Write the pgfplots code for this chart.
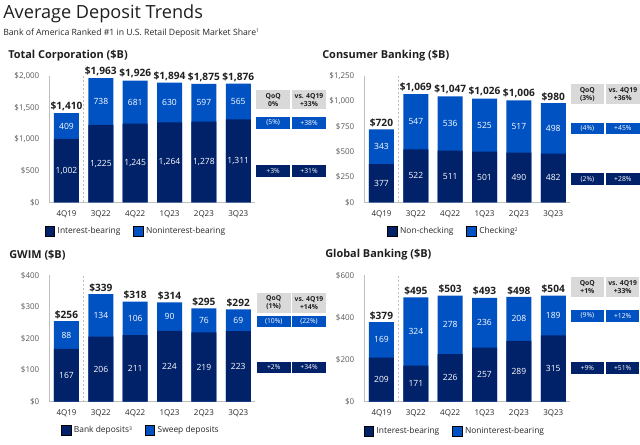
\documentclass[border=0pt]{standalone}
\usepackage{fontspec}
\setmainfont{Open Sans}
\usepackage{pgfplots}
\pgfplotsset{compat=1.18}
\usepackage{pgfplotstable}

\definecolor{navy}{HTML}{012169}
\definecolor{bblue}{HTML}{0052C2}
\definecolor{boxgray}{HTML}{D9D9D9}
\definecolor{axgray}{HTML}{BFBFBF}
\definecolor{tickgray}{HTML}{595959}
\definecolor{txt}{HTML}{262626}
\definecolor{ttl}{HTML}{1F1F1F}

\newcommand\titlefont{\fontsize{13.6}{16}\selectfont}
\newcommand\subfont{\fontsize{6.5}{8}\selectfont}
\newcommand\ptitlefont{\fontsize{8.2}{10}\selectfont\bfseries}
\newcommand\totfont{\fontsize{7.6}{9}\selectfont\bfseries}
\newcommand\inlabfont{\fontsize{6.4}{8}\selectfont}
\newcommand\tickfont{\fontsize{6}{7}\selectfont}
\newcommand\legfont{\fontsize{6.3}{7.5}\selectfont}
\newcommand\boxfont{\fontsize{5.1}{5.9}\selectfont}
\newcommand\supnote[1]{\raisebox{2.2pt}{\fontsize{3.8}{4}\selectfont #1}}

\pgfplotstableread{
x a b t
0 1002 409 1410
1 1225 738 1963
2 1245 681 1926
3 1264 630 1894
4 1278 597 1875
5 1311 565 1876
}\dataTC
\pgfplotstableread{
x a b t
0 377 343 720
1 522 547 1069
2 511 536 1047
3 501 525 1026
4 490 517 1006
5 482 498 980
}\dataCB
\pgfplotstableread{
x a b t
0 167 88 256
1 206 134 339
2 211 106 318
3 224 90 314
4 219 76 295
5 223 69 292
}\dataGW
\pgfplotstableread{
x a b t
0 209 169 379
1 171 324 495
2 226 278 503
3 257 236 493
4 289 208 498
5 315 189 504
}\dataGB

\pgfplotsset{
  sq/.style={legend image code/.code={\fill[##1] (0pt,-3.7pt) rectangle (7.4pt,3.7pt);}},
  panel/.style={
    scale only axis, width=154.6pt, height=94.8pt,
    anchor=south west,
    xmin=-0.5, xmax=5.5, ymin=0,
    axis x line*=bottom, axis y line*=left,
    axis line style={draw=axgray, line width=0.8pt},
    major tick length=0pt,
    xtick={0,1,2,3,4,5},
    xticklabels={4Q19,3Q22,4Q22,1Q23,2Q23,3Q23},
    xticklabel style={font=\tickfont, text=txt, yshift=-2.5pt},
    yticklabel style={font=\tickfont, text=tickgray, xshift=-4pt},
    scaled y ticks=false,
    yticklabel={\$\pgfmathprintnumber{\tick}},
    /pgf/number format/1000 sep={,},
    /pgf/number format/assume math mode=true,
    /pgf/number format/fixed,
    /pgf/number format/precision=0,
    clip=false,
    legend style={draw=none, fill=none, inner sep=0pt, legend columns=2,
      font=\legfont, text=txt, legend cell align=left,
      /tikz/every even column/.append style={column sep=7.5pt}, anchor=north west},
  }
}

\newcommand\bars[2]{%
  \addplot[ybar, bar width=18.75pt, bar shift=0pt, fill=bblue, draw=none, forget plot]
    table[x=x, y expr=\thisrow{a}+\thisrow{b}] {#1};
  \addplot[ybar, bar width=18.75pt, bar shift=0pt, fill=navy, draw=none, forget plot]
    table[x=x, y=a] {#1};
  \addplot[only marks, mark=none, forget plot, point meta=explicit,
    nodes near coords={\pgfmathprintnumber{\pgfplotspointmeta}},
    every node near coord/.append style={anchor=center, font=\inlabfont, text=white}]
    table[x=x, y expr=\thisrow{a}/2, meta=a] {#1};
  \addplot[only marks, mark=none, forget plot, point meta=explicit,
    nodes near coords={\pgfmathprintnumber{\pgfplotspointmeta}},
    every node near coord/.append style={anchor=center, font=\inlabfont, text=white}]
    table[x=x, y expr=\thisrow{a}+\thisrow{b}/2, meta=b] {#1};
  \addplot[only marks, mark=none, forget plot, point meta=explicit,
    nodes near coords={\$\pgfmathprintnumber{\pgfplotspointmeta}},
    every node near coord/.append style={anchor=south, font=\totfont, text=ttl, inner sep=1.5pt}]
    table[x=x, y expr=\thisrow{a}+\thisrow{b}, meta=t] {#1};
  \draw[axgray, line width=0.6pt, dash pattern=on 1.5pt off 1.5pt] (axis cs:0.5,0) -- (axis cs:0.5,#2);
}

% side box macros (pixel coordinates)
\newcommand\gbox[5]{%
  \fill[boxgray] (#1,#2) rectangle (#3,#4);
  \node[align=center, font=\boxfont\bfseries, text=ttl, inner sep=0pt] at ({(#1+#3)/2},{(#2+#4)/2}) {#5};
}
\newcommand\cbox[6]{%
  \fill[#6] (#1,#2) rectangle (#3,#4);
  \node[font=\boxfont, text=white, inner sep=0pt] at ({(#1+#3)/2},{(#2+#4)/2}) {#5};
}

\begin{document}
\begin{tikzpicture}
\path[use as bounding box] (0,0) rectangle (480pt,333.75pt);

% Panel 1: Total Corporation
\begin{axis}[panel, at={(36.98pt,182.03pt)}, ymax=2000, ytick={0,500,1000,1500,2000},
  legend style={at={(axis description cs:-0.024,-0.175)}}]
  \addlegendimage{sq, fill=navy}\addlegendentry{Interest-bearing}
  \addlegendimage{sq, fill=bblue}\addlegendentry{Noninterest-bearing}
  \bars{\dataTC}{2000}
\end{axis}

% Panel 2: Consumer Banking
\begin{axis}[panel, at={(273.23pt,182.03pt)}, ymax=1250, ytick={0,250,500,750,1000,1250},
  legend style={at={(axis description cs:0.109,-0.175)}}]
  \addlegendimage{sq, fill=navy}\addlegendentry{Non-checking}
  \addlegendimage{sq, fill=bblue}\addlegendentry{Checking\supnote{2}}
  \bars{\dataCB}{1250}
\end{axis}

% Panel 3: GWIM
\begin{axis}[panel, at={(36.98pt,32.48pt)}, ymax=400, ytick={0,100,200,300,400},
  legend style={at={(axis description cs:0.055,-0.172)}}]
  \addlegendimage{sq, fill=navy}\addlegendentry{Bank deposits\supnote{3}}
  \addlegendimage{sq, fill=bblue}\addlegendentry{Sweep deposits}
  \bars{\dataGW}{400}
\end{axis}

% Panel 4: Global Banking
\begin{axis}[panel, at={(273.23pt,32.48pt)}, ymax=600, ytick={0,200,400,600},
  legend style={at={(axis description cs:-0.005,-0.177)}}]
  \addlegendimage{sq, fill=navy}\addlegendentry{Interest-bearing}
  \addlegendimage{sq, fill=bblue}\addlegendentry{Noninterest-bearing}
  \bars{\dataGB}{600}
\end{axis}

\begin{scope}[x=0.75pt, y=-0.75pt, yshift=333.75pt]
  \node[anchor=west, font=\titlefont, text=ttl, inner sep=0pt] at (3,14) {Average Deposit Trends};
  \node[anchor=west, font=\subfont, text=txt, inner sep=0pt] at (3,33.5) {Bank of America Ranked \#1 in U.S. Retail Deposit Market Share\supnote{1}};
  \node[anchor=west, font=\ptitlefont, text=ttl, inner sep=0pt] at (8,56) {Total Corporation (\$B)};
  \node[anchor=west, font=\ptitlefont, text=ttl, inner sep=0pt] at (322,56) {Consumer Banking (\$B)};
  \node[anchor=west, font=\ptitlefont, text=ttl, inner sep=0pt] at (9,255) {GWIM (\$B)};
  \node[anchor=west, font=\ptitlefont, text=ttl, inner sep=0pt] at (325,255) {Global Banking (\$B)};

  % Panel 1 boxes
  \gbox{256}{90}{290.3}{109.3}{QoQ\\0\%}
  \gbox{292}{90}{326}{109.3}{vs. 4Q19\\+33\%}
  \cbox{256}{116.7}{290.3}{129}{(5\%)}{bblue}
  \cbox{292}{116.7}{326}{129}{+38\%}{bblue}
  \cbox{256}{165}{290.3}{176.7}{+3\%}{navy}
  \cbox{292}{165}{326}{176.7}{+31\%}{navy}
  % Panel 2 boxes
  \gbox{570.7}{84.3}{604}{104.3}{QoQ\\(3\%)}
  \gbox{605.7}{84.3}{640}{104.3}{vs. 4Q19\\+36\%}
  \cbox{570.7}{122.7}{604}{134.3}{(4\%)}{bblue}
  \cbox{605.7}{122.7}{640}{134.3}{+45\%}{bblue}
  \cbox{570.7}{173.3}{604}{185.3}{(2\%)}{navy}
  \cbox{605.7}{173.3}{640}{185.3}{+28\%}{navy}
  % Panel 3 boxes
  \gbox{256.7}{292.7}{290.7}{312.7}{QoQ\\(1\%)}
  \gbox{292}{292.7}{326}{312.7}{vs. 4Q19\\+14\%}
  \cbox{256.7}{315.7}{290.7}{327.3}{(10\%)}{bblue}
  \cbox{292}{315.7}{326}{327.3}{(22\%)}{bblue}
  \cbox{256.7}{361.7}{290.7}{373.3}{+2\%}{navy}
  \cbox{292}{361.7}{326}{373.3}{+34\%}{navy}
  % Panel 4 boxes
  \gbox{570.7}{277.3}{604}{297.3}{QoQ\\+1\%}
  \gbox{606}{277.3}{639.3}{297.3}{vs. 4Q19\\+33\%}
  \cbox{570.7}{310}{604}{322}{(9\%)}{bblue}
  \cbox{606}{310}{639.3}{322}{+12\%}{bblue}
  \cbox{570.7}{362.3}{604}{374.3}{+9\%}{navy}
  \cbox{606}{362.3}{639.3}{374.3}{+51\%}{navy}
\end{scope}
\end{tikzpicture}
\end{document}
